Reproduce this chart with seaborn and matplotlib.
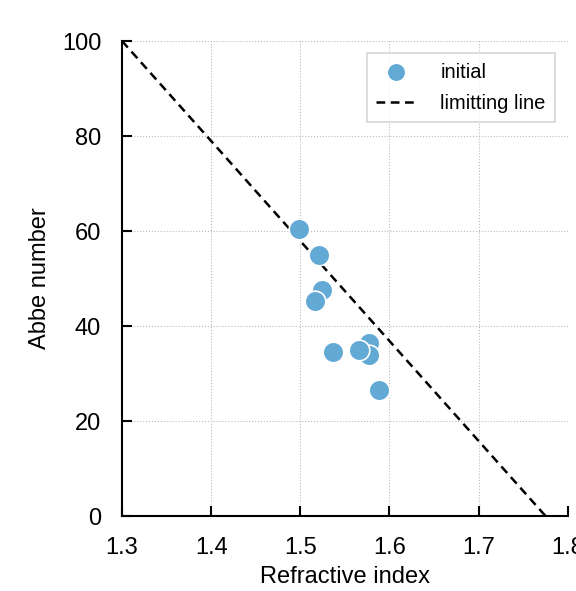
import numpy as np
import matplotlib
matplotlib.use("Agg")
import matplotlib.pyplot as plt
import pandas as pd
import seaborn as sns

# data
refr_index = [1.498, 1.5206, 1.5247, 1.5165, 1.5366, 1.577, 1.577, 1.5657, 1.5878]
abbe_num = [60.4, 54.9, 47.6, 45.3, 34.6, 36.5, 33.9, 34.9, 26.5]
line_n = [1.3, 1.775]
line_v = [100, 0]

df = pd.DataFrame({'n': refr_index, 'v': abbe_num})
df_line = pd.DataFrame({'n': line_n, 'v': line_v})

sns.set_style('ticks')
plt.rcParams['font.family'] = ['Liberation Sans', 'DejaVu Sans']
plt.rcParams['text.color'] = 'black'
plt.rcParams['axes.labelcolor'] = 'black'
plt.rcParams['xtick.color'] = 'black'
plt.rcParams['ytick.color'] = 'black'

fig = plt.figure(figsize=(5.76, 5.91), dpi=100)
ax = fig.add_axes([0.2118, 0.1269, 0.774, 0.8037])

sns.lineplot(data=df_line, x='n', y='v', ax=ax, color='black',
             linewidth=1.8, dashes=(3.5, 2.2), label='limitting line', zorder=2)
ax.lines[0].set_dashes((3.5, 2.2))
sns.scatterplot(data=df, x='n', y='v', ax=ax, color='#62a9d6', s=220,
                edgecolor='white', linewidth=1.2, label='initial', zorder=3)

ax.set_xlim(1.3, 1.8)
ax.set_ylim(0, 100)
ax.set_xticks([1.3, 1.4, 1.5, 1.6, 1.7, 1.8])
ax.set_yticks([0, 20, 40, 60, 80, 100])
ax.set_xlabel('Refractive index', fontsize=17, labelpad=5)
ax.set_ylabel('Abbe number', fontsize=17, labelpad=8)
ax.tick_params(direction='in', length=7, width=1.5, labelsize=17, pad=15,
               bottom=True, left=True)
ax.grid(True, linestyle=':', color='#bbbbbb', linewidth=0.8)
sns.despine(ax=ax)
for sp in ['left', 'bottom']:
    ax.spines[sp].set_color('black')
    ax.spines[sp].set_linewidth(1.5)

handles, labels = ax.get_legend_handles_labels()
order = [labels.index('initial'), labels.index('limitting line')]
leg = ax.legend([handles[i] for i in order], [labels[i] for i in order],
                loc='upper right', bbox_to_anchor=(0.993, 0.995), fontsize=14.5,
                frameon=True, fancybox=False, borderpad=0.45, labelspacing=0.6,
                handletextpad=1.2, markerscale=0.9)
leg.get_frame().set_edgecolor('#cccccc')
leg.get_frame().set_linewidth(1.2)

fig.savefig('out.png', dpi=100)
